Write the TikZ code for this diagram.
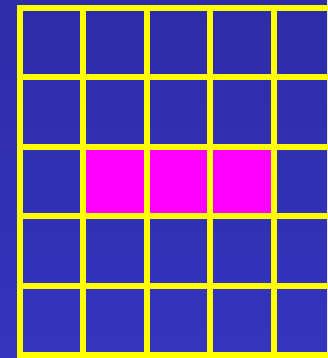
\documentclass[tikz,border=0pt]{standalone}
\usepackage{tikz}
\usetikzlibrary{positioning}
\definecolor{board}{HTML}{3030B4}
\definecolor{boardtop}{HTML}{2D2DA8}
\definecolor{boardbot}{HTML}{3434BE}
\definecolor{gridline}{HTML}{FFFF00}
\definecolor{hilite}{HTML}{FF00FF}
\tikzset{
	cellfill/.style={fill=hilite, draw=none},
	gridpen/.style={draw=gridline, line width=0.06cm, line cap=rect},
}

\begin{document}
\begin{tikzpicture}[x=0.01cm, y=-0.01cm]
				\useasboundingbox (0,0) rectangle (327,358);
				\shade[top color=boardtop, bottom color=boardbot] (0,0) rectangle (327,358);
				% highlighted row
				\foreach \c in {1,2,3}
				\fill[cellfill] ({20+63.4*\c},147) rectangle ({20+63.4*(\c+1)},216.4);
				% grid
				\foreach \i in {0,...,5}
				\draw[gridpen] (20,{8+69.4*\i}) -- (340,{8+69.4*\i});
				\foreach \i in {0,...,4}
				\draw[gridpen] ({20+63.4*\i},8) -- ({20+63.4*\i},355);
			\end{tikzpicture}
\end{document}
